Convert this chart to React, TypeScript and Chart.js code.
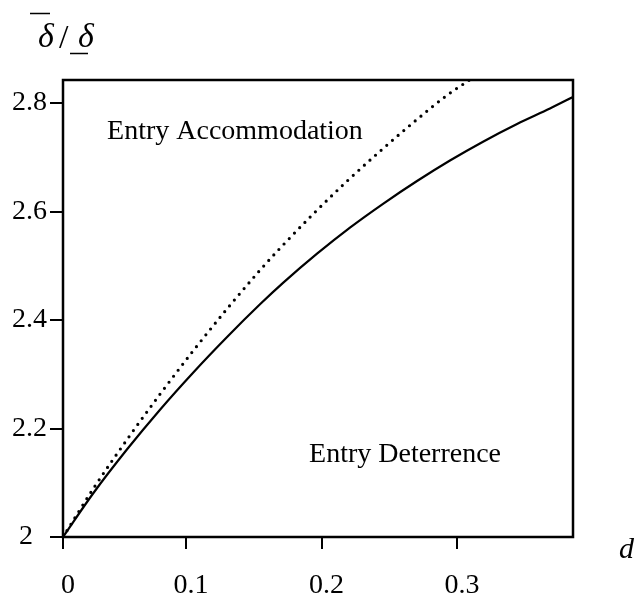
import React, { useEffect, useRef } from "react";
import { Chart, registerables } from "chart.js";

Chart.register(...registerables);

// Axis values (the original's leftmost tick, labelled "0", sits at X_MIN on the linear scale)
const X_MIN = 0.0092;
const X_MAX = 0.3856;
const Y_MIN = 2.0;
const Y_MAX = 2.8424;

const X_TICK_VALUES = [X_MIN, 0.1, 0.2, 0.3];
const X_TICK_LABELS = ["0", "0.1", "0.2", "0.3"];
const Y_TICK_VALUES = [2.0, 2.2, 2.4, 2.6, 2.8];
const Y_TICK_LABELS = ["2  ", "2.2", "2.4", "2.6", "2.8"];

// Solid curve (Entry Deterrence boundary)
const SOLID_X = [0.0092, 0.0314, 0.0565, 0.0808, 0.1052, 0.1303, 0.1546, 0.1716, 0.1967, 0.221, 0.2454, 0.2705, 0.2948, 0.3192, 0.3443, 0.3686, 0.3856];
const SOLID_Y = [2.0, 2.0802, 2.1617, 2.2347, 2.3029, 2.3687, 2.4289, 2.4684, 2.5222, 2.5703, 2.6142, 2.6562, 2.694, 2.7287, 2.7613, 2.7899, 2.8111];

// Dotted curve
const DOTTED_X = [0.0092, 0.0314, 0.0587, 0.0808, 0.1052, 0.1303, 0.1546, 0.1694, 0.1937, 0.2188, 0.2432, 0.2675, 0.2926, 0.3103];
const DOTTED_Y = [2.0, 2.0885, 2.1875, 2.2632, 2.3429, 2.4206, 2.4918, 2.5323, 2.595, 2.6559, 2.7111, 2.7635, 2.8142, 2.8442];

const REGION_LABELS = ["Entry Accommodation", "Entry Deterrence"];
const REGION_LABEL_X = [0.0417, 0.1908];
const REGION_LABEL_Y = [2.7336, 2.1382];

const X_AXIS_LABEL = "d";

const SERIF = "'Liberation Serif', 'Times New Roman', serif";

const toPoints = (xs: number[], ys: number[]) => xs.map((x, i) => ({ x, y: ys[i] }));

const decorPlugin = {
  id: "decor",
  afterDatasetsDraw(chart: any) {
    const { ctx, chartArea, scales } = chart;
    const { left, top, right, bottom } = chartArea;
    ctx.save();
    // frame
    ctx.strokeStyle = "#000";
    ctx.lineWidth = 2.5;
    ctx.strokeRect(left, top, right - left, bottom - top);

    // region labels
    ctx.fillStyle = "#000";
    ctx.font = `28px ${SERIF}`;
    ctx.textBaseline = "alphabetic";
    ctx.textAlign = "left";
    REGION_LABELS.forEach((t, i) => {
      ctx.fillText(t, scales.x.getPixelForValue(REGION_LABEL_X[i]), scales.y.getPixelForValue(REGION_LABEL_Y[i]));
    });

    // y-axis title: delta-bar / delta-underbar
    ctx.font = `italic 34px ${SERIF}`;
    ctx.fillText("\u03B4", 38, 47);
    ctx.font = `34px ${SERIF}`;
    ctx.fillText("/", 59, 48);
    ctx.font = `italic 34px ${SERIF}`;
    ctx.fillText("\u03B4", 78, 47);
    ctx.lineWidth = 1.6;
    ctx.beginPath();
    ctx.moveTo(30, 13.5);
    ctx.lineTo(50, 13.5);
    ctx.moveTo(70, 53.5);
    ctx.lineTo(88, 53.5);
    ctx.stroke();

    // x-axis title
    ctx.font = `italic 30px ${SERIF}`;
    ctx.fillText(X_AXIS_LABEL, 619, 558);
    ctx.restore();
  },
};

export default function App() {
  const ref = useRef<HTMLCanvasElement | null>(null);

  useEffect(() => {
    if (!ref.current) return;
    const chart = new Chart(ref.current, {
      type: "line",
      data: {
        datasets: [
          {
            label: "solid",
            data: toPoints(SOLID_X, SOLID_Y),
            borderColor: "#000",
            borderWidth: 2.2,
            pointRadius: 0,
            cubicInterpolationMode: "monotone",
            fill: false,
          },
          {
            label: "dotted",
            data: toPoints(DOTTED_X, DOTTED_Y),
            borderColor: "#000",
            borderWidth: 3.2,
            borderDash: [0, 7.5],
            borderCapStyle: "round",
            pointRadius: 0,
            cubicInterpolationMode: "monotone",
            fill: false,
          },
        ],
      },
      options: {
        responsive: false,
        animation: false,
        devicePixelRatio: 1,
        layout: { padding: { top: 80, right: 62, left: 0, bottom: 0 } },
        plugins: {
          legend: { display: false },
          tooltip: { enabled: false },
          title: { display: false },
        },
        scales: {
          x: {
            type: "linear",
            min: X_MIN,
            max: X_MAX,
            border: { display: false },
            grid: {
              display: true,
              drawOnChartArea: false,
              drawTicks: true,
              tickLength: 12,
              color: "#000",
              lineWidth: 2,
            },
            afterBuildTicks: (scale: any) => {
              scale.ticks = X_TICK_VALUES.map((v) => ({ value: v }));
            },
            afterFit: (scale: any) => {
              scale.height = 59;
            },
            ticks: {
              autoSkip: false,
              maxRotation: 0,
              padding: 20,
              labelOffset: 5,
              color: "#000",
              font: { family: SERIF, size: 28 },
              callback: (_v: any, i: number) => X_TICK_LABELS[i],
            },
          },
          y: {
            type: "linear",
            min: Y_MIN,
            max: Y_MAX,
            border: { display: false },
            grid: {
              display: true,
              drawOnChartArea: false,
              drawTicks: true,
              tickLength: 13,
              color: "#000",
              lineWidth: 2,
            },
            afterBuildTicks: (scale: any) => {
              scale.ticks = Y_TICK_VALUES.map((v) => ({ value: v }));
            },
            afterFit: (scale: any) => {
              scale.width = 63;
            },
            ticks: {
              autoSkip: false,
              padding: 3,
              color: "#000",
              font: { family: SERIF, size: 28 },
              callback: (_v: any, i: number) => Y_TICK_LABELS[i],
            },
          },
        },
      },
      plugins: [decorPlugin],
    });
    return () => chart.destroy();
  }, []);

  return (
    <div style={{ position: "fixed", left: 0, top: 0, width: 635, height: 596, background: "#fff" }}>
      <canvas ref={ref} width={635} height={596} style={{ display: "block" }} />
    </div>
  );
}
